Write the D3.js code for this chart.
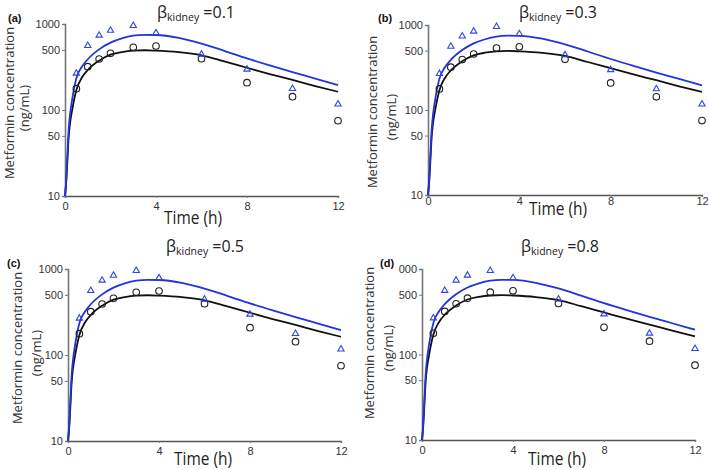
<!DOCTYPE html>
<html><head><meta charset="utf-8">
<script src="https://cdn.jsdelivr.net/npm/d3@7"></script>
<style>body{margin:0;background:#fff}svg{display:block}</style>
</head><body>
<svg id="c" width="709" height="470"></svg>
<script>
// ---- data ----
const panelLetters = ["(a)", "(b)", "(c)", "(d)"];
const betaValues = ["0.1", "0.3", "0.5", "0.8"];
const obsTimes = [0.5, 1, 1.5, 2, 3, 4, 6, 8, 10, 12];
const triangleVals = [267, 560, 738, 843, 957, 786, 444, 297, 177, 117];
const circleVals = [177, 319, 392, 456, 536, 555, 395, 208, 143, 75];
const curveTimes = [0, 0.05, 0.1, 0.16, 0.22, 0.3, 0.5, 0.75, 1, 1.5, 2, 2.5, 3, 3.5, 4, 5, 6, 7, 8, 9, 10, 11, 12];
const blueCurve  = [10, 15, 28, 58, 88, 125, 234, 320, 389, 507, 607, 680, 731, 748, 745, 690, 592, 488, 398, 330, 276, 232, 195];
const blackCurve = [10, 14, 24, 48, 70, 95, 171, 240, 292, 375, 440, 472, 490, 495, 490, 470, 432, 367, 310, 262, 224, 190, 163];
const xTicks = [0, 4, 8, 12];
const yTicks = [10, 50, 100, 500, 1000];
const yTickLabelsByPanel = [
  ["10", "50", "100", "500", "1000"],
  ["10", "50", "100", "500", "1000"],
  ["10", "50", "100", "500", "1000"],
  ["10", "50", "100", "500", "000"]
];

// ---- layout ----
const layout = [
  {x0: 65,  x1: 338, yb: 196, yt: 24,  title: [196, 18],  letter: [8, 22],   xt: [193, 224], yl: [10, 25, 103],   tick: 210},
  {x0: 428, x1: 702, yb: 195, yt: 25,  title: [558, 18],  letter: [378, 22], xt: [558, 215], yl: [373, 392, 112], tick: 205},
  {x0: 68,  x1: 341, yb: 441, yt: 269, title: [205, 252], letter: [7, 267],  xt: [203, 465], yl: [18, 37, 348],   tick: 455},
  {x0: 422, x1: 695, yb: 440, yt: 269, title: [560, 252], letter: [380, 267],xt: [557, 465], yl: [370, 389, 343], tick: 454}
];

const svg = d3.select("#c");
const blue = "#2233dd", black = "#111";

layout.forEach((L, i) => {
  const g = svg.append("g");
  const x = d3.scaleLinear().domain([0, 12]).range([L.x0, L.x1]);
  const y = d3.scaleLog().domain([10, 1000]).range([L.yb, L.yt]);

  // y axis
  const ya = g.append("g").attr("transform", `translate(${L.x0},0)`)
    .call(d3.axisLeft(y).tickValues(yTicks).tickSize(3).tickPadding(2)
      .tickFormat(d => yTickLabelsByPanel[i][yTicks.indexOf(d)]));
  ya.select(".domain").attr("stroke", "#777").attr("stroke-width", 1.6);
  ya.selectAll(".tick line").attr("stroke", "#777");
  ya.selectAll("text").attr("font-family", "Liberation Sans, Arial, sans-serif").attr("font-size", 11).attr("fill", "#333");

  // x axis
  const xa = g.append("g").attr("transform", `translate(0,${L.yb})`)
    .call(d3.axisBottom(x).tickValues(xTicks).tickSize(2).tickPadding(3).tickFormat(d3.format("d")));
  xa.select(".domain").attr("stroke", "#555").attr("stroke-width", 1.4);
  xa.selectAll(".tick line").attr("stroke", "#777");
  xa.selectAll("text").attr("font-family", "Liberation Sans, Arial, sans-serif").attr("font-size", 11).attr("fill", "#333")
    .attr("y", null).attr("dy", null).attr("transform", `translate(0,${L.tick - L.yb})`);

  // curves
  const line = d3.line().x((d, k) => x(curveTimes[k])).y(d => y(d)).curve(d3.curveMonotoneX);
  g.append("path").attr("d", line(blackCurve)).attr("fill", "none").attr("stroke", black).attr("stroke-width", 1.8);
  g.append("path").attr("d", line(blueCurve)).attr("fill", "none").attr("stroke", blue).attr("stroke-width", 1.8);

  // observed points
  g.selectAll(".circ").data(circleVals).enter().append("circle")
    .attr("cx", (d, k) => x(obsTimes[k])).attr("cy", d => y(d)).attr("r", 3.3)
    .attr("fill", "none").attr("stroke", "#222").attr("stroke-width", 1.1);
  g.selectAll(".tri").data(triangleVals).enter().append("path")
    .attr("d", d3.symbol().type(d3.symbolTriangle).size(17))
    .attr("transform", (d, k) => `translate(${x(obsTimes[k])},${y(d)})`)
    .attr("fill", "none").attr("stroke", "#3346dd").attr("stroke-width", 1.1);

  // title
  const t = g.append("text").attr("x", L.title[0]).attr("y", L.title[1]).attr("text-anchor", "middle")
    .attr("font-family", "Open Sans, sans-serif").attr("fill", "#222");
  t.append("tspan").attr("font-size", 16).text("β");
  t.append("tspan").attr("font-size", 10.5).attr("dy", 3).text("kidney");
  t.append("tspan").attr("font-size", 16).attr("dy", -3).text(" =" + betaValues[i]);

  // panel letter
  g.append("text").attr("x", L.letter[0]).attr("y", L.letter[1]).attr("font-family", "Liberation Sans, Arial, sans-serif")
    .attr("font-weight", "bold").attr("font-size", 11).attr("fill", "#111").text(panelLetters[i]);

  // x title
  g.append("text").attr("x", L.xt[0]).attr("y", L.xt[1]).attr("text-anchor", "middle")
    .attr("font-family", "Open Sans, sans-serif").attr("font-size", 19).attr("fill", "#222")
    .attr("textLength", 58).attr("lengthAdjust", "spacingAndGlyphs").text("Time (h)");

  // y title
  const yl = g.append("g").attr("font-family", "Open Sans, sans-serif").attr("font-size", 13).attr("fill", "#333").attr("text-anchor", "middle");
  yl.append("text").attr("transform", `translate(${L.yl[0] + 4},${L.yl[2]}) rotate(-90)`).text("Metformin concentration");
  yl.append("text").attr("transform", `translate(${L.yl[1] + 4},${L.yl[2] + 5}) rotate(-90)`).text("(ng/mL)");
});
</script>
</body></html>
